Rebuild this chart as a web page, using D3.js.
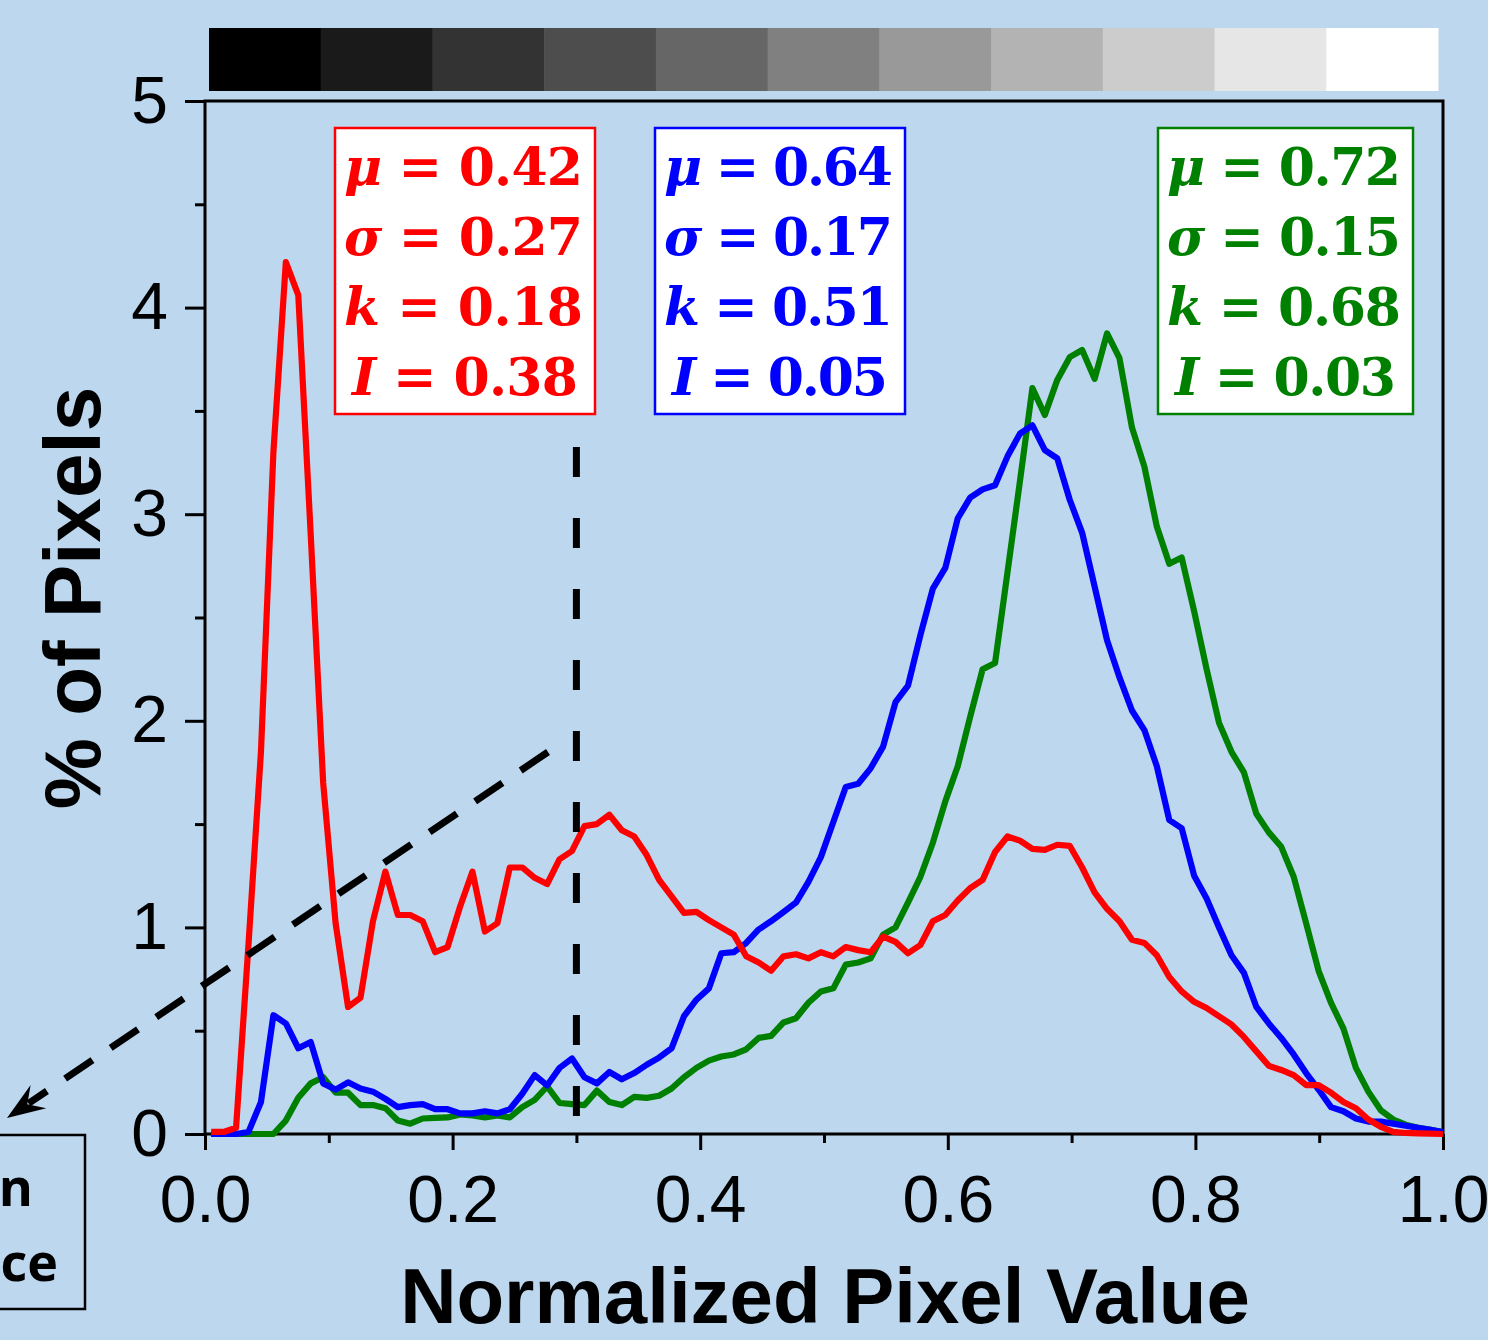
<!DOCTYPE html>
<html><head><meta charset="utf-8">
<script src="https://cdn.jsdelivr.net/npm/d3@7"></script>
<style>html,body{margin:0;padding:0;background:#BDD7EE;} svg{display:block;}</style>
</head><body><svg id="chart" width="1488" height="1340"></svg>
<script>
// ---------- data ----------
const redValues = [0.01,0.01,0.03,0.92,1.85,3.30,4.22,4.06,2.90,1.70,
  1.02,0.615,0.66,1.03,1.27,1.06,1.06,1.03,0.88,0.905,
  1.10,1.27,0.98,1.02,1.29,1.29,1.24,1.21,1.33,1.37,
  1.49,1.50,1.545,1.47,1.44,1.35,1.23,1.15,1.07,1.075,
  1.035,1.00,0.965,0.86,0.83,0.79,0.86,0.87,0.85,0.88,
  0.86,0.905,0.89,0.88,0.955,0.93,0.875,0.915,1.03,1.06,
  1.13,1.19,1.23,1.365,1.44,1.42,1.38,1.375,1.40,1.395,
  1.29,1.17,1.09,1.03,0.94,0.925,0.865,0.76,0.69,0.64,
  0.61,0.57,0.53,0.47,0.40,0.33,0.31,0.285,0.237,0.237,
  0.20,0.155,0.125,0.07,0.035,0.01,0.005,0.003,0.002,0.0];
const blueValues = [0,0,0,0.01,0.155,0.575,0.535,0.415,0.445,0.245,
  0.215,0.25,0.22,0.205,0.17,0.13,0.14,0.145,0.12,0.12,
  0.10,0.10,0.11,0.10,0.12,0.195,0.285,0.235,0.32,0.365,
  0.275,0.245,0.30,0.265,0.295,0.335,0.37,0.415,0.57,0.65,
  0.705,0.875,0.88,0.925,0.99,1.03,1.075,1.12,1.22,1.34,
  1.51,1.68,1.695,1.77,1.875,2.09,2.17,2.415,2.64,2.74,
  2.98,3.08,3.12,3.14,3.28,3.39,3.43,3.31,3.27,3.07,
  2.91,2.65,2.39,2.21,2.05,1.955,1.78,1.52,1.48,1.25,
  1.14,1.0,0.865,0.78,0.615,0.535,0.465,0.385,0.295,0.215,
  0.13,0.11,0.075,0.06,0.06,0.05,0.04,0.03,0.02,0.01];
const greenValues = [0,0,0,0,0,0,0.065,0.175,0.245,0.275,
  0.20,0.20,0.14,0.14,0.125,0.065,0.05,0.075,0.078,0.08,
  0.095,0.09,0.08,0.09,0.08,0.13,0.165,0.23,0.15,0.145,
  0.14,0.21,0.155,0.14,0.18,0.175,0.185,0.22,0.275,0.32,
  0.355,0.375,0.385,0.41,0.465,0.475,0.54,0.56,0.635,0.69,
  0.705,0.82,0.83,0.85,0.965,1.0,1.12,1.245,1.41,1.61,
  1.78,2.02,2.25,2.28,2.72,3.16,3.61,3.48,3.65,3.76,
  3.795,3.655,3.875,3.755,3.42,3.23,2.94,2.76,2.79,2.53,
  2.25,1.99,1.85,1.75,1.55,1.46,1.39,1.245,1.02,0.79,
  0.635,0.51,0.32,0.205,0.115,0.07,0.045,0.03,0.02,0.01];
const xTicks = [0, 0.2, 0.4, 0.6, 0.8, 1.0];
const xMinorTicks = [0.1, 0.3, 0.5, 0.7, 0.9];
const yTicks = [0, 1, 2, 3, 4, 5];
const yMinorTicks = [0.5, 1.5, 2.5, 3.5, 4.5];
const grayLevels = [0, 0.1, 0.2, 0.3, 0.4, 0.5, 0.6, 0.7, 0.8, 0.9, 1.0];
const statSymbols = ["μ", "σ", "k", "I"];
const redStats = ["0.42", "0.27", "0.18", "0.38"];
const blueStats = ["0.64", "0.17", "0.51", "0.05"];
const greenStats = ["0.72", "0.15", "0.68", "0.03"];
const xTitle = "Normalized Pixel Value";
const yTitle = "% of Pixels";
const thresholdX = 0.3;
const clippedLines = ["n", "ce"];

// ---------- layout ----------
const W = 1488, H = 1340;
const M = {left: 205, right: 1443, top: 101, bottom: 1134};
const svg = d3.select("#chart");
svg.append("rect").attr("width", W).attr("height", H).attr("fill", "#BDD7EE");

const x = d3.scaleLinear().domain([0, 1]).range([M.left, M.right]);
const y = d3.scaleLinear().domain([0, 5]).range([M.bottom, M.top]);
const binX = d3.range(redValues.length).map(i => 0.005 + i * 0.995 / (redValues.length - 1));

// gray scale bar
const gx = d3.scaleBand().domain(grayLevels).range([209, 1438]).padding(0);
svg.append("g").selectAll("rect").data(grayLevels).join("rect")
  .attr("x", d => gx(d)).attr("y", 28)
  .attr("width", gx.bandwidth() + 0.5).attr("height", 63)
  .attr("fill", d => d3.rgb(Math.round(d * 255), Math.round(d * 255), Math.round(d * 255)));

// axes
const tickFont = "'Liberation Sans', Arial, sans-serif";
const xAxis = svg.append("g").attr("transform", `translate(0,${M.bottom})`)
  .call(d3.axisBottom(x).tickValues(xTicks).tickSize(16).tickPadding(25).tickFormat(d3.format(".1f")));
const xMinor = svg.append("g").attr("transform", `translate(0,${M.bottom})`)
  .call(d3.axisBottom(x).tickValues(xMinorTicks).tickSize(9).tickFormat(""));
const yAxis = svg.append("g").attr("transform", `translate(${M.left},0)`)
  .call(d3.axisLeft(y).tickValues(yTicks).tickSize(20).tickPadding(17).tickFormat(d3.format("d")));
const yMinor = svg.append("g").attr("transform", `translate(${M.left},0)`)
  .call(d3.axisLeft(y).tickValues(yMinorTicks).tickSize(10).tickFormat(""));
[xAxis, xMinor, yAxis, yMinor].forEach(g => {
  g.select(".domain").remove();
  g.selectAll("line").attr("stroke", "#000").attr("stroke-width", 3);
  g.selectAll("text").attr("fill", "#000").style("font-family", tickFont).style("font-size", "66px");
});

// frame
svg.append("rect").attr("x", M.left).attr("y", M.top)
  .attr("width", M.right - M.left).attr("height", M.bottom - M.top)
  .attr("fill", "none").attr("stroke", "#000").attr("stroke-width", 3);

// curves
const line = d3.line().x((d, i) => x(binX[i])).y(d => y(d));
[[greenValues, "#008000"], [blueValues, "#0000FF"], [redValues, "#FF0000"]].forEach(([vals, col]) => {
  svg.append("path").datum(vals).attr("d", line)
    .attr("fill", "none").attr("stroke", col).attr("stroke-width", 6.2)
    .attr("stroke-linejoin", "round").attr("stroke-linecap", "butt");
});

// vertical dashed threshold line
svg.append("line").attr("x1", x(thresholdX)).attr("x2", x(thresholdX))
  .attr("y1", 447).attr("y2", y(0))
  .attr("stroke", "#000").attr("stroke-width", 7).attr("stroke-dasharray", "30,41");

// diagonal dashed arrow
const p0 = [548, 752], tip = [7, 1118];
const dx = tip[0] - p0[0], dy = tip[1] - p0[1], L = Math.hypot(dx, dy);
const ux = dx / L, uy = dy / L, nx = -uy, ny = ux;
const headLen = 34, headW = 14;
const base = [tip[0] - headLen * ux, tip[1] - headLen * uy];
svg.append("line").attr("x1", p0[0]).attr("y1", p0[1]).attr("x2", base[0] + 8 * ux).attr("y2", base[1] + 8 * uy)
  .attr("stroke", "#000").attr("stroke-width", 7).attr("stroke-dasharray", "33,22");
const notch = [tip[0] - headLen * 0.72 * ux, tip[1] - headLen * 0.72 * uy];
svg.append("path").attr("d", `M${tip[0]},${tip[1]} L${base[0] + headW * nx - 4 * ux},${base[1] + headW * ny - 4 * uy} L${notch[0]},${notch[1]} L${base[0] - headW * nx - 4 * ux},${base[1] - headW * ny - 4 * uy} Z`)
  .attr("fill", "#000");

// stat boxes
const boxes = [
  {x: 335, w: 260, col: "#FF0000", vals: redStats},
  {x: 655, w: 250, col: "#0000FF", vals: blueStats},
  {x: 1158, w: 255, col: "#008000", vals: greenStats}
];
const boxTop = 128, boxH = 286;
const lineBase = [57, 127, 197, 267];
boxes.forEach(b => {
  const g = svg.append("g");
  g.append("rect").attr("x", b.x).attr("y", boxTop).attr("width", b.w).attr("height", boxH)
    .attr("fill", "#fff").attr("stroke", b.col).attr("stroke-width", 2.5);
  statSymbols.forEach((s, i) => {
    const pad = s === "I" ? 17 : 9;
    const padR = s === "I" ? 17 : 12;
    const t = g.append("text").attr("x", b.x + pad).attr("y", boxTop + lineBase[i])
      .attr("textLength", b.w - pad - padR).attr("lengthAdjust", "spacing")
      .attr("fill", b.col)
      .style("font-family", "'DejaVu Serif', serif").style("font-weight", "bold").style("font-size", "52px");
    t.append("tspan").style("font-style", "italic").text(s);
    t.append("tspan").text(" = " + b.vals[i]);
  });
});

// partially visible box bottom-left
svg.append("rect").attr("x", -20).attr("y", 1135).attr("width", 105).attr("height", 174)
  .attr("fill", "none").attr("stroke", "#000").attr("stroke-width", 2.5);
const clipEnds = [33, 58], clipBase = [1206, 1281];
clippedLines.forEach((t, i) => {
  svg.append("text").attr("x", clipEnds[i]).attr("y", clipBase[i]).attr("text-anchor", "end")
    .attr("fill", "#000")
    .style("font-family", "'Open Sans', sans-serif").style("font-weight", "bold").style("font-size", "52px")
    .text(t);
});

// axis titles
svg.append("text").attr("x", 825).attr("y", 1323).attr("text-anchor", "middle")
  .attr("fill", "#000")
  .style("font-family", tickFont).style("font-weight", "bold").style("font-size", "78px")
  .text(xTitle);
svg.append("text").attr("transform", "translate(100,598) rotate(-90)").attr("text-anchor", "middle")
  .attr("fill", "#000")
  .style("font-family", tickFont).style("font-weight", "bold").style("font-size", "80px")
  .text(yTitle);
</script>
</body></html>
